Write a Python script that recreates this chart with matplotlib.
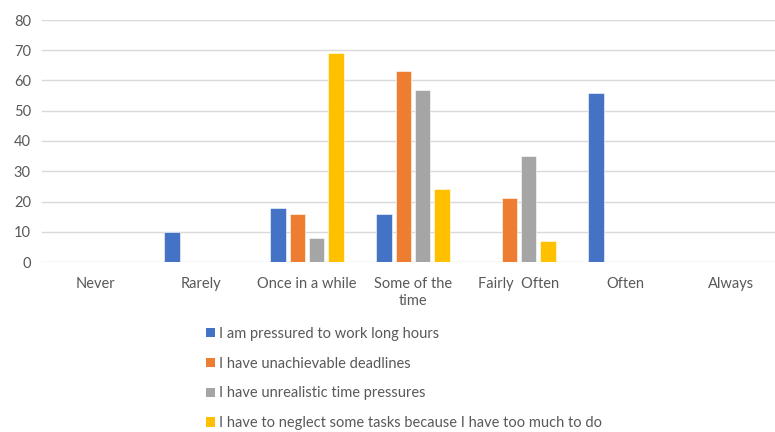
import numpy as np
import matplotlib
matplotlib.use("Agg")
import matplotlib.pyplot as plt
from matplotlib.patches import Patch

categories = ["Never", "Rarely", "Once in a while", "Some of the\ntime",
              "Fairly  Often", "Often", "Always"]
series_names = [
    "I am pressured to work long hours",
    "I have unachievable deadlines",
    "I have unrealistic time pressures",
    "I have to neglect some tasks because I have too much to do",
]
long_hours = [0, 10, 18, 16, 0, 56, 0]
deadlines = [0, 0, 16, 63, 21, 0, 0]
time_pressures = [0, 0, 8, 57, 35, 0, 0]
neglect_tasks = [0, 0, 69, 24, 7, 0, 0]
yticks = [0, 10, 20, 30, 40, 50, 60, 70, 80]

colors = ["#4472C4", "#ED7D31", "#A5A5A5", "#FFC000"]
series = [long_hours, deadlines, time_pressures, neglect_tasks]

plt.rcParams["font.family"] = ["Lato", "DejaVu Sans"]

W, H = 775, 432
fig = plt.figure(figsize=(W / 100, H / 100), dpi=100)
left, right = 42, 784
top, bottom = 20, 262
ax = fig.add_axes([left / W, 1 - bottom / H, (right - left) / W, (bottom - top) / H])

x = np.arange(len(categories))
bw = 0.145
step = 0.182
for i, (vals, c) in enumerate(zip(series, colors)):
    ax.bar(x + (i - 1.5) * step, vals, width=bw, color=c,
           edgecolor="white", linewidth=0.4, zorder=3)

ax.set_xlim(-0.5, len(categories) - 0.5)
ax.set_ylim(0, 80)
ax.set_yticks(yticks)
ax.set_xticks(x)
ax.set_xticklabels(categories, fontsize=10.5, color="#595959", linespacing=1.25)
ax.tick_params(axis="x", length=0, pad=11)
ax.tick_params(axis="y", length=0, pad=8, labelsize=10.5, labelcolor="#595959")
ax.yaxis.grid(True, color="#D9D9D9", linewidth=1.0, zorder=0)
ax.set_axisbelow(True)
for s in ax.spines.values():
    s.set_visible(False)

handles = [Patch(facecolor=c, edgecolor="none") for c in colors]
fig.legend(handles, series_names, loc="upper left",
           bbox_to_anchor=(206 / W, 1 - 327 / H), frameon=False,
           fontsize=10.5, labelcolor="#595959", handlelength=0.6,
           handleheight=0.6, handletextpad=0.3, labelspacing=1.08,
           borderaxespad=0, borderpad=0)

fig.savefig("out.png", dpi=100)
